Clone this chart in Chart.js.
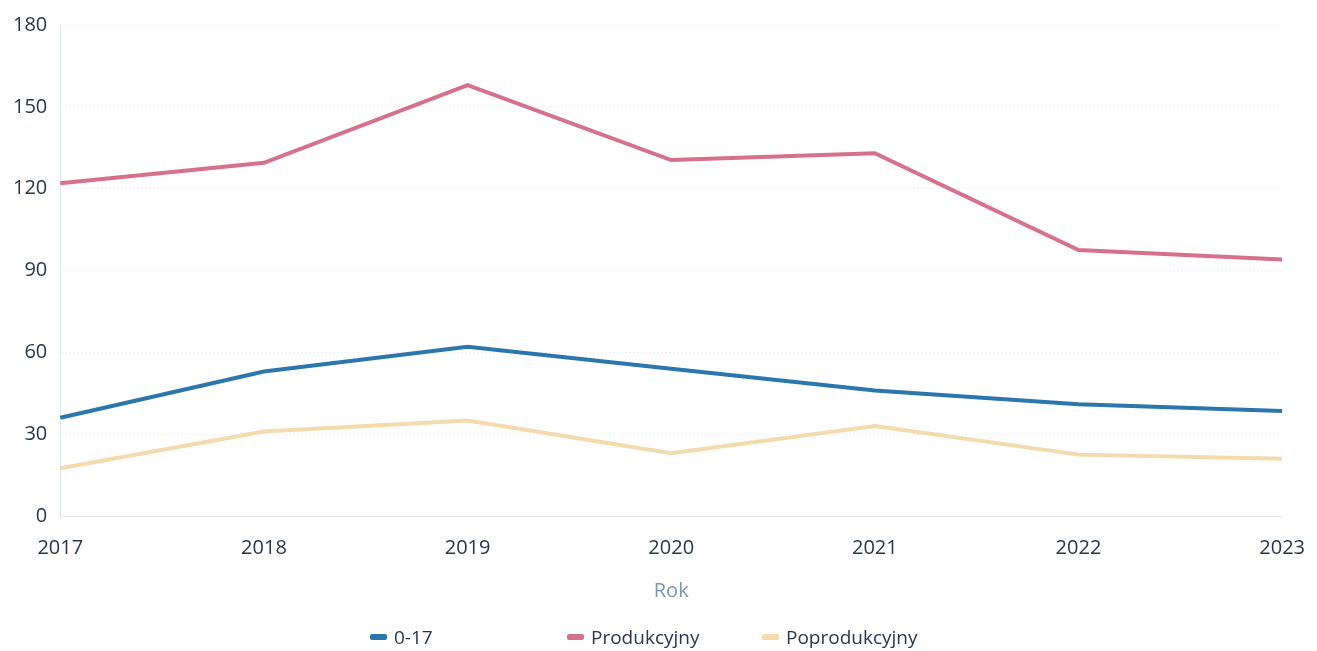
<!DOCTYPE html>
<html>
<head>
<meta charset="utf-8">
<script src="https://cdn.jsdelivr.net/npm/chart.js@4/dist/chart.umd.min.js"></script>
<style>
  html, body { margin: 0; padding: 0; background: #fff; }
  #wrap { position: relative; width: 1317px; height: 651px; }
  #legend { position: absolute; left: 370px; top: 624px; display: flex; font-family: 'Open Sans', 'Noto Sans', sans-serif; font-size: 19px; color: #2a3550; }
  #legend .item { display: flex; align-items: center; }
  #legend .item:nth-child(1) { width: 197px; }
  #legend .item:nth-child(2) { width: 195px; }
  #legend .box { width: 17px; height: 6px; border-radius: 2px; margin-right: 7px; }
</style>
</head>
<body>
<div id="wrap"><canvas id="myChart"></canvas><div id="legend"></div></div>
<script>
// data
const years = ['2017', '2018', '2019', '2020', '2021', '2022', '2023'];
const kids = [36, 53, 62, 54, 46, 41, 38.5];
const working = [122, 129.5, 158, 130.5, 133, 97.5, 94];
const retired = [17.5, 31, 35, 23, 33, 22.5, 21];
const yTicks = [0, 30, 60, 90, 120, 150, 180];

document.addEventListener("DOMContentLoaded", () => {
    Chart.defaults.font.family = "'Open Sans', 'Noto Sans', sans-serif";

    const ctx = document.getElementById('myChart').getContext('2d');
    const chart = new Chart(ctx, {
        type: 'line',
        data: {
            labels: years,
            datasets: [
                { label: '0-17', data: kids, borderColor: '#2b77ad', backgroundColor: '#2b77ad' },
                { label: 'Produkcyjny', data: working, borderColor: '#d5718b', backgroundColor: '#d5718b' },
                { label: 'Poprodukcyjny', data: retired, borderColor: '#f3dbad', backgroundColor: '#f3dbad' }
            ].map(d => Object.assign(d, { borderWidth: 4, pointRadius: 0, tension: 0, fill: false }))
        },
        options: {
            responsive: true,
            maintainAspectRatio: false,
            animation: false,
            layout: { autoPadding: false, padding: { top: 17, left: 0, right: 33, bottom: 48 } },
            plugins: {
                legend: { display: false },
                tooltip: { enabled: false }
            },
            scales: {
                x: {
                    offset: false,
                    grid: { display: false },
                    border: { display: true, color: '#e4e9f3', dash: [2, 2] },
                    ticks: { color: '#2a3550', font: { size: 20 }, padding: 12, maxRotation: 0 },
                    title: { display: true, text: 'Rok', color: '#8094b3', font: { size: 20 }, padding: { top: 7, bottom: 0 } }
                },
                y: {
                    min: 0,
                    max: 180,
                    afterBuildTicks: axis => { axis.ticks = yTicks.map(v => ({ value: v })); },
                    grid: { color: '#eef1f7', lineWidth: 1, drawTicks: false },
                    border: { display: true, color: '#dfe5f0', dash: [2, 2] },
                    ticks: { color: '#2a3550', font: { size: 20 }, padding: 13 }
                }
            }
        }
    });

    // legend built from the chart's datasets
    const legend = document.getElementById('legend');
    chart.data.datasets.forEach(ds => {
        const item = document.createElement('div');
        item.className = 'item';
        item.innerHTML = '<span class="box" style="background:' + ds.borderColor + '"></span><span>' + ds.label + '</span>';
        legend.appendChild(item);
    });
});
</script>
</body>
</html>
